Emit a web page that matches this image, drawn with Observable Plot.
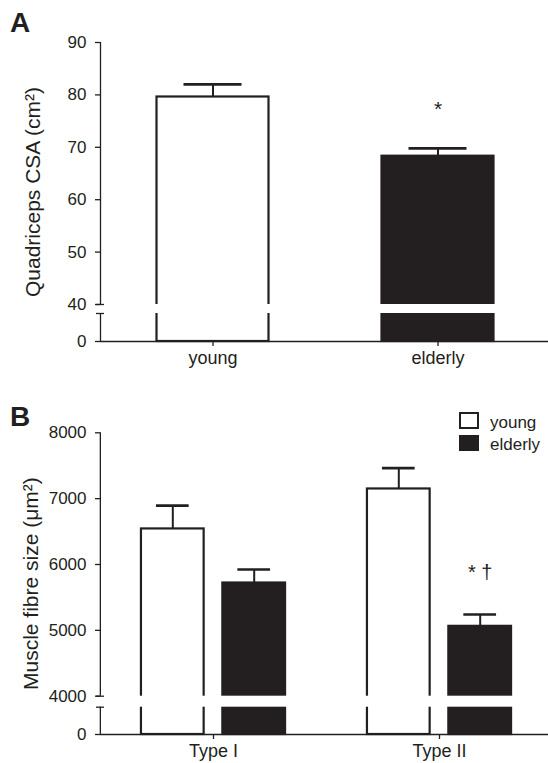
<!DOCTYPE html>
<html><head><meta charset="utf-8">
<script src="https://cdn.jsdelivr.net/npm/d3@7"></script>
<script src="https://cdn.jsdelivr.net/npm/@observablehq/plot@0.6"></script>
<style>
body{margin:0;background:#fff;}
#wrap{position:relative;width:548px;height:763px;font-family:"Liberation Sans",Arial,Helvetica,sans-serif;color:#231f20;overflow:hidden;background:#fff}
.panel{position:absolute;left:0;}
.plabel{position:absolute;left:10px;font-weight:bold;font-size:28px;line-height:1}
.lg{position:absolute;font-size:17px;line-height:17px}
.sw{position:absolute;box-sizing:border-box;}
</style></head><body>
<div id="wrap">
  <div id="pa" class="panel" style="top:0"></div>
  <div id="pb" class="panel" style="top:375px"></div>
  <div class="plabel" style="top:8.5px">A</div>
  <div class="plabel" style="top:403px">B</div>
  <div class="sw" style="left:459px;top:412px;width:20px;height:17px;border:2px solid #231f20;background:#fff"></div>
  <div class="lg" style="left:490px;top:414px">young</div>
  <div class="sw" style="left:459px;top:435px;width:20px;height:16px;background:#231f20"></div>
  <div class="lg" style="left:490px;top:436px">elderly</div>
</div>
<script>
// ---------- data ----------
const groupsA = ["young", "elderly"];
const meanA = [79.6, 68.3];
const semA = [2.4, 1.5];
const sigA = ["", "*"];
const ticksA = [0, 40, 50, 60, 70, 80, 90];
const breakA = [35, 40];
const yLabelA = "Quadriceps CSA (cm²)";

const fibreTypes = ["Type I", "Type II"];
const meanYoungB = [6540, 7147];
const semYoungB = [355, 316];
const meanElderlyB = [5719, 5061];
const semElderlyB = [205, 180];
const sigElderlyB = ["", "* †"];
const ticksB = [0, 4000, 5000, 6000, 7000, 8000];
const breakB = [3500, 4000];
const yLabelB = "Muscle fibre size (μm²)";

const ink = "#231f20";
const font = "Liberation Sans, Arial, Helvetica, sans-serif";
const plain = d => String(d);

// ---------- panel A ----------
const dataA = groupsA.map((g, i) => ({group: g, mean: meanA[i], sem: semA[i], sig: sigA[i], fill: i === 0 ? "white" : ink}));
const bandA = 225;
const plotA = Plot.plot({
  width: 548, height: 375, marginLeft: 100, marginRight: 0, marginTop: 42, marginBottom: 34,
  style: {fontFamily: font, color: ink, background: "transparent", overflow: "visible"},
  x: {type: "band", domain: groupsA, range: [100, 550], padding: 0},
  y: {type: "linear", domain: [0, breakA[0], breakA[1], 90], range: [341, 313, 304, 42]},
  marks: [
    Plot.ruleX(dataA, {x: "group", y1: "mean", y2: d => d.mean + d.sem, stroke: ink, strokeWidth: 2}),
    Plot.barY(dataA, {x: "group", y1: 0, y2: "mean", fill: "fill", stroke: ink, strokeWidth: 2.2, insetLeft: 56.5, insetRight: 56.5}),
    Plot.barY(dataA, {x: "group", y1: breakA[0], y2: breakA[1], fill: "white", insetLeft: 54, insetRight: 54}),
    Plot.tickY(dataA, {x: "group", y: d => d.mean + d.sem, stroke: ink, strokeWidth: 2.7, insetLeft: 83.5, insetRight: 83.5}),
    Plot.text(dataA, {x: "group", y: d => d.mean + d.sem, text: "sig", dy: -32, lineAnchor: "bottom", fontSize: 21, fill: ink}),
    Plot.ruleY([0], {stroke: ink, strokeWidth: 1.3}),
    Plot.ruleX([[0, breakA[0]], [breakA[1], 90]], {x: () => groupsA[0], dx: -bandA / 2, y1: d => d[0], y2: d => d[1], stroke: ink, strokeWidth: 1.3}),
    Plot.axisY({ticks: ticksA, tickFormat: plain, tickSize: 5, tickPadding: 9, fontSize: 17, label: null, strokeWidth: 1.3}),
    Plot.axisY({ticks: breakA, tickSize: 8, dx: 4, tickFormat: () => "", label: null, strokeWidth: 1.3}),
    Plot.axisX({tickSize: 5, tickPadding: 5, fontSize: 18, label: null, strokeWidth: 1.3}),
    Plot.text([yLabelA], {text: d => d, frameAnchor: "left", textAnchor: "middle", dx: -61, rotate: -90, lineAnchor: "bottom", fontSize: 21, fill: ink})
  ]
});
document.getElementById("pa").appendChild(plotA);

// ---------- panel B ----------
const youngB = fibreTypes.map((t, i) => ({type: t, mean: meanYoungB[i], sem: semYoungB[i], sig: ""}));
const elderlyB = fibreTypes.map((t, i) => ({type: t, mean: meanElderlyB[i], sem: semElderlyB[i], sig: sigElderlyB[i]}));
const bandB = 226.3;
const barInsetB = (bandB - 63) / 2;
const capInsetB = (bandB - 33) / 2;
const offB = 40.7;

function groupMarks(data, fill, dx) {
  return [
    Plot.ruleX(data, {x: "type", y1: "mean", y2: d => d.mean + d.sem, stroke: ink, strokeWidth: 2, dx}),
    Plot.barY(data, {x: "type", y1: 0, y2: "mean", fill, stroke: ink, strokeWidth: 2.2, insetLeft: barInsetB, insetRight: barInsetB, dx}),
    Plot.barY(data, {x: "type", y1: breakB[0], y2: breakB[1], fill: "white", insetLeft: barInsetB - 2.5, insetRight: barInsetB - 2.5, dx}),
    Plot.tickY(data, {x: "type", y: d => d.mean + d.sem, stroke: ink, strokeWidth: 2.7, insetLeft: capInsetB, insetRight: capInsetB, dx}),
    Plot.text(data, {x: "type", y: d => d.mean + d.sem, text: "sig", dy: -35, dx, lineAnchor: "bottom", fontSize: 20, fill: ink})
  ];
}

const plotB = Plot.plot({
  width: 548, height: 388, marginLeft: 100, marginRight: 0, marginTop: 57.3, marginBottom: 29,
  style: {fontFamily: font, color: ink, background: "transparent", overflow: "visible"},
  x: {type: "band", domain: fibreTypes, range: [100, 100 + 2 * bandB], padding: 0},
  y: {type: "linear", domain: [0, breakB[0], breakB[1], 8000], range: [359, 331.7, 320.7, 57.3]},
  marks: [
    ...groupMarks(youngB, "white", -offB),
    ...groupMarks(elderlyB, ink, offB),
    Plot.ruleY([0], {stroke: ink, strokeWidth: 1.3}),
    Plot.ruleX([[0, breakB[0]], [breakB[1], 8000]], {x: () => fibreTypes[0], dx: -bandB / 2, y1: d => d[0], y2: d => d[1], stroke: ink, strokeWidth: 1.3}),
    Plot.axisY({ticks: ticksB, tickFormat: plain, tickSize: 5, tickPadding: 9, fontSize: 17, label: null, strokeWidth: 1.3}),
    Plot.axisY({ticks: breakB, tickSize: 8, dx: 4, tickFormat: () => "", label: null, strokeWidth: 1.3}),
    Plot.axisX({tickSize: 5, tickPadding: 5, fontSize: 18, label: null, strokeWidth: 1.3}),
    Plot.text([yLabelB], {text: d => d, frameAnchor: "left", textAnchor: "middle", dx: -63, rotate: -90, lineAnchor: "bottom", fontSize: 21, fill: ink})
  ]
});
document.getElementById("pb").appendChild(plotB);
</script>
</body></html>
